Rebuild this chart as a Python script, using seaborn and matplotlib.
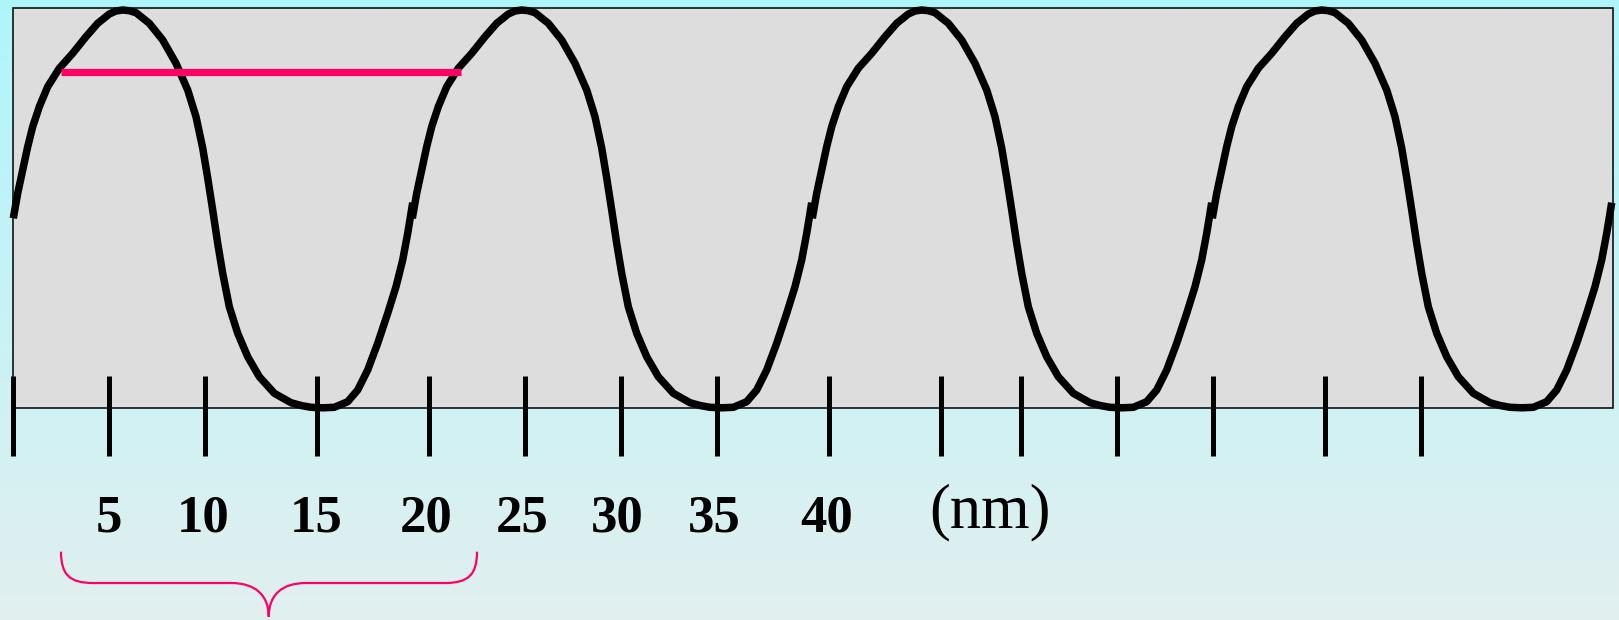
import numpy as np
import pandas as pd
import matplotlib
matplotlib.use("Agg")
import matplotlib.pyplot as plt
import seaborn as sns
from matplotlib.patches import Rectangle, PathPatch
from matplotlib.path import Path

# ---- data (pixel units of the 1619x620 canvas) ----
# one period of the wave, traced: x offset from the period start, y position
wave_dx = [0.3, 4.7, 9.7, 14.7, 19.7, 26.3, 34.7, 46.3, 59.7, 73, 84.7, 96.3,
           103, 109.7, 116.3, 123, 136.3, 149.7, 163, 174.7, 183, 189.7,
           194.7, 199.7, 204.7, 209.7, 216.3, 224.7, 234.7, 246.3, 261.3, 278,
           288, 298, 310, 321.3, 334.7, 344.7, 354.7, 364.7, 374.7, 383,
           389.7, 394.7, 398, 399.7]
wave_y = [218.3, 193.3, 170, 146.7, 126.7, 106.7, 86.7, 68.3, 53.3, 36.7,
          23.3, 14, 11, 10, 10.7, 12.7, 23.3, 40, 63.3, 90, 116.7, 148,
          178, 210, 243.3, 273.3, 306.7, 333.3, 356.7, 376.7, 393.3, 402.7,
          405.5, 407.3, 407.8, 407.3, 401.7, 390, 370, 343.3, 313.3, 286.7,
          260, 233.3, 213.3, 202.7]
period_starts = [13, 412, 812, 1212]

tick_x = [12.6, 108.7, 204.8, 317, 428.6, 524.7, 620.8, 717, 828.5, 940.7,
          1020.7, 1116.7, 1213, 1325, 1420.7]
label_text = ["5", "10", "15", "20", "25", "30", "35", "40"]
label_x = [108.7, 203.5, 315.7, 425.8, 522.6, 617, 714, 826.4]
unit_label = "(nm)"
unit_x = 990

span_x = [61, 461]
span_y = [71.7, 71.7]

# ---- figure ----
W, H = 1619, 620
fig = plt.figure(figsize=(W / 100, H / 100), dpi=100)
ax = fig.add_axes([0, 0, 1, 1])

# background gradient
top = np.array([174, 246, 251]) / 255
bot = np.array([226, 239, 239]) / 255
t = np.linspace(0, 1, 256)[:, None]
grad = (top[None, :] * (1 - t) + bot[None, :] * t)[:, None, :]
ax.imshow(grad, extent=[0, W, H, 0], aspect="auto", zorder=0)

# grey panel
ax.add_patch(Rectangle((13, 7.5), 1600, 400, facecolor="#dddddd",
                       edgecolor="black", linewidth=1.1, zorder=1))

# wave
rows = []
for i, x0 in enumerate(period_starts):
    for dx, y in zip(wave_dx, wave_y):
        rows.append({"x": x0 + dx, "y": y, "period": i})
df = pd.DataFrame(rows)
sns.lineplot(data=df, x="x", y="y", units="period", estimator=None, sort=False,
             color="black", linewidth=5.4, ax=ax, legend=False, zorder=3,
             solid_capstyle="butt", solid_joinstyle="round")

# red period marker
sns.lineplot(x=span_x, y=span_y, color="#ff0066", linewidth=5.2, ax=ax,
             zorder=4, solid_capstyle="butt")

# scale ticks
ax.vlines(tick_x, 376, 456, color="black", linewidth=3.6, zorder=5)

# labels
for txt, x in zip(label_text, label_x):
    ax.text(x, 532, txt, ha="center", va="baseline", fontsize=38,
            fontweight="bold", family=["Liberation Serif", "DejaVu Serif"],
            color="black", zorder=6)
ax.text(unit_x, 527, unit_label, ha="center", va="baseline", fontsize=45,
        family=["Liberation Serif", "DejaVu Serif"], color="black", zorder=6)

# brace
verts = [(61, 551.7), (61, 575), (70, 583), (93, 583),
         (231, 583),
         (255, 583), (268.7, 595), (268.7, 616.7),
         (268.7, 595), (282, 583), (306, 583),
         (445, 583),
         (468, 583), (477, 575), (477, 551.7)]
codes = [Path.MOVETO, Path.CURVE4, Path.CURVE4, Path.CURVE4,
         Path.LINETO,
         Path.CURVE4, Path.CURVE4, Path.CURVE4,
         Path.CURVE4, Path.CURVE4, Path.CURVE4,
         Path.LINETO,
         Path.CURVE4, Path.CURVE4, Path.CURVE4]
ax.add_patch(PathPatch(Path(verts, codes), facecolor="none",
                       edgecolor="#ff0066", linewidth=1.6, zorder=6))

ax.set_xlim(0, W)
ax.set_ylim(H, 0)
ax.axis("off")
fig.savefig("out.png", dpi=100)
